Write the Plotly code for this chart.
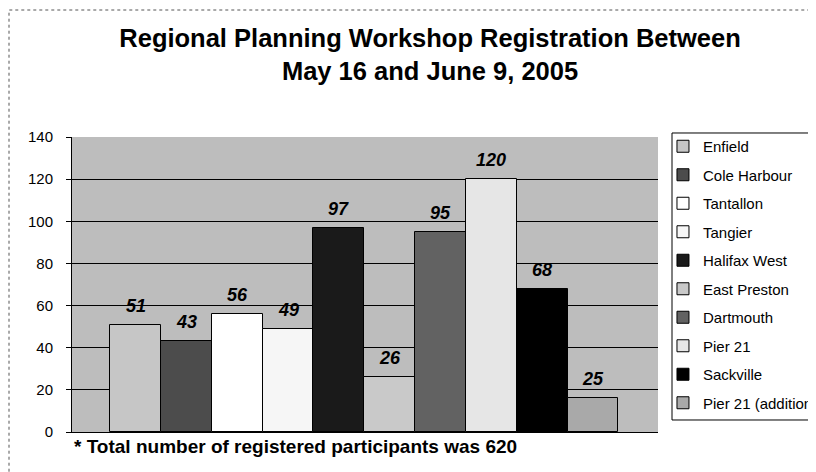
import plotly.graph_objects as go

sites = ["Enfield", "Cole Harbour", "Tantallon", "Tangier", "Halifax West",
         "East Preston", "Dartmouth", "Pier 21", "Sackville", "Pier 21 (additional"]
bar_heights = [51, 43, 56, 49, 97, 26, 95, 120, 68, 16]
label_texts = ["51", "43", "56", "49", "97", "26", "95", "120", "68", "25"]
colors = ["#c6c6c6", "#4c4c4c", "#ffffff", "#f6f6f6", "#1a1a1a",
          "#c9c9c9", "#626262", "#e6e6e6", "#000000", "#a9a9a9"]
y_ticks = [0, 20, 40, 60, 80, 100, 120, 140]

FONT = "Arial, Liberation Sans, sans-serif"

fig = go.Figure()
for i, (name, h, c) in enumerate(zip(sites, bar_heights, colors)):
    fig.add_trace(go.Bar(
        x=[i], y=[h], name=name, width=1,
        marker=dict(color=c, line=dict(color="black", width=1)),
        legendgroup=name, showlegend=True, hoverinfo="skip"))

annotations = []
for i, (h, t) in enumerate(zip(bar_heights, label_texts)):
    annotations.append(dict(
        x=i, y=h, xref="x", yref="y", text="<b><i>" + t + "</i></b>",
        showarrow=False, yanchor="middle", yshift=19,
        font=dict(family=FONT, size=18, color="black")))

annotations.append(dict(
    x=0, y=-0.049, xref="paper", yref="paper", xanchor="left", yanchor="middle",
    text="<b>* Total number of registered participants was 620</b>", showarrow=False,
    font=dict(family=FONT, size=19, color="black")))

fig.update_layout(
    width=816, height=472,
    paper_bgcolor="white", plot_bgcolor="#bdbdbd",
    margin=dict(l=64, r=166, t=129, b=48, autoexpand=False),
    barmode="overlay", bargap=0,
    title=dict(
        text="<b>Regional Planning Workshop Registration Between<br>May 16 and June 9, 2005</b>",
        x=0.611, xanchor="center", xref="paper", y=0.917, yanchor="middle",
        font=dict(family=FONT, size=25.5, color="black")),
    xaxis=dict(range=[-1.25, 10.28], showticklabels=False, showgrid=False,
               zeroline=False, showline=True, linecolor="black", linewidth=1,
               ticks="", fixedrange=True),
    yaxis=dict(range=[0, 140], tickvals=y_ticks, showgrid=True, gridcolor="black",
               gridwidth=1, zeroline=False, showline=True, linecolor="black",
               linewidth=1, ticks="outside", ticklen=5, tickcolor="black",
               ticklabelstandoff=10,
               tickfont=dict(family=FONT, size=15, color="black"),
               fixedrange=True),
    legend=dict(x=1.0085, y=1.0237, xanchor="left", yanchor="top",
                bgcolor="rgba(0,0,0,0)", borderwidth=0, maxheight=420,
                font=dict(family=FONT, size=15, color="black"),
                tracegroupgap=6, itemwidth=30, traceorder="grouped"),
    annotations=annotations,
    shapes=[
        dict(type="rect", xref="paper", yref="paper",
             x0=-0.1075, x1=1.4, y0=-0.3, y1=1.4305,
             line=dict(color="#555555", width=1, dash="dot"),
             fillcolor="rgba(0,0,0,0)", layer="below"),
        dict(type="rect", xref="paper", yref="paper",
             x0=1.0239, x1=1.35, y0=0.0407, y1=1.0136,
             line=dict(color="black", width=1),
             fillcolor="white", layer="above"),
    ],
    showlegend=True,
)

fig.write_html("out.html")
